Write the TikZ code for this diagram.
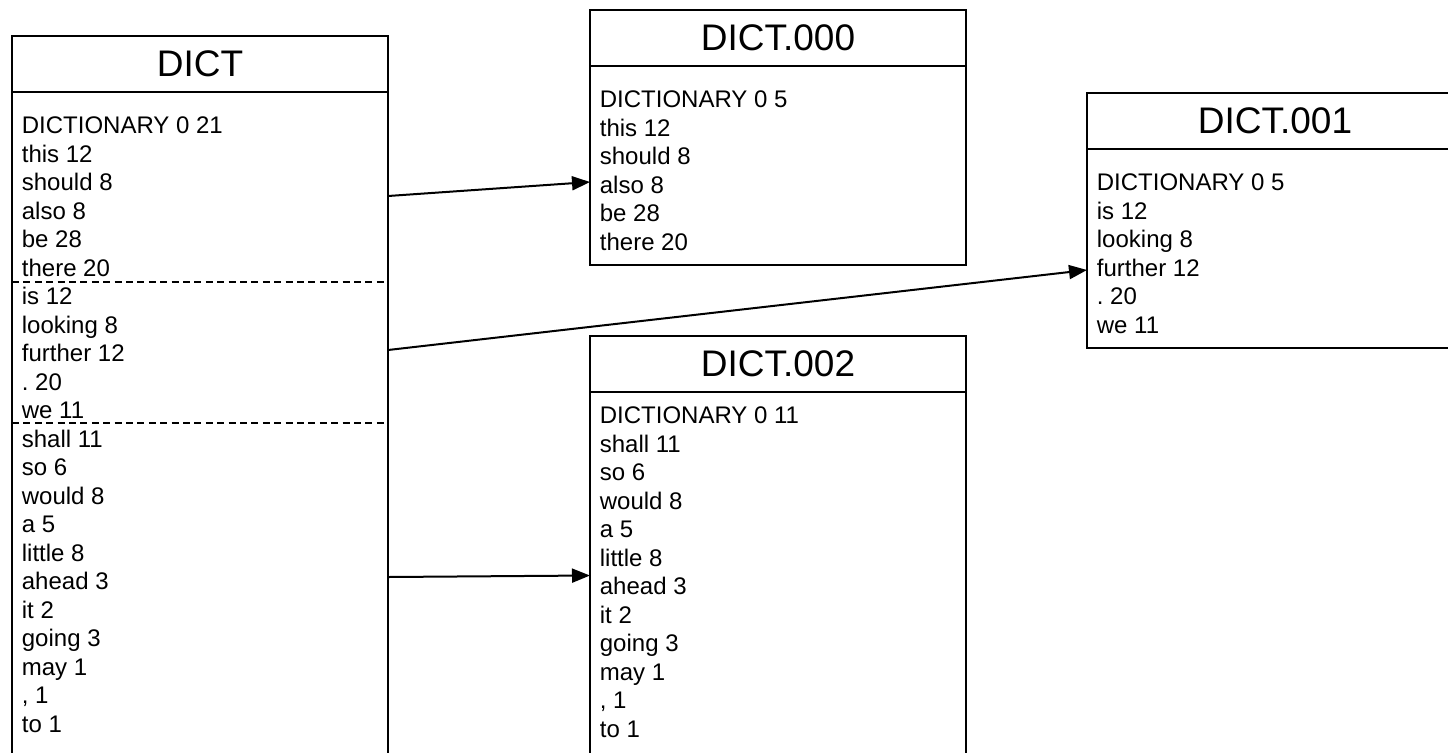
\documentclass[tikz,border=0pt]{standalone}
\usepackage{fontspec}
\setmainfont{Liberation Sans}
\usetikzlibrary{positioning,arrows.meta}

\tikzset{
  head/.style={draw, line width=1pt, outer sep=0pt, inner sep=0pt,
    minimum width=188pt, minimum height=28pt,
    font=\fontsize{18.5pt}{22pt}\selectfont},
  part/.style={outer sep=0pt, inner sep=0pt, minimum width=188pt},
  body/.style={part, draw, line width=1pt},
  lines/.style={inner sep=0pt, anchor=north west, align=left,
    font=\fontsize{12pt}{14.25pt}\selectfont\frenchspacing},
  split/.style={line width=1pt, dash pattern=on 3.5pt off 2.2pt},
  link/.style={line width=1pt, -{Triangle[length=9pt, width=7pt]}},
}

\begin{document}
\begin{tikzpicture}[x=0.5pt, y=-0.5pt]
        \useasboundingbox (0,0) rectangle (1448,752);
        \clip (0,0) rectangle (1448,752);
        % source file, cut in three parts
        \node[head] (dict) at (200,64) {DICT};
        \node[part, minimum height=95pt, below=0pt of dict] (dictA) {};
        \node[part, minimum height=70.5pt, below=0pt of dictA] (dictB) {};
        \node[part, minimum height=170pt, below=0pt of dictB] (dictC) {};
        \draw[line width=1pt] (dictA.north west) rectangle (dictC.south east);
        \draw[split] (dictA.south west) -- (dictA.south east);
        \draw[split] (dictB.south west) -- (dictB.south east);
        \node[lines] (dictTxt) at ([shift={(9.5,21.6)}]dictA.north west)
          {\strut DICTIONARY 0 21\\this 12\\should 8\\also 8\\be 28\\there 20\\
           is 12\\looking 8\\further 12\\. 20\\we 11\\
           shall 11\\so 6\\would 8\\a 5\\little 8\\ahead 3\\it 2\\going 3\\may 1\\, 1\\to 1};
        % the parts
        \node[head] (d000) at (778,38) {DICT.000};
        \node[body, minimum height=99.5pt, below=0pt of d000] (d000b) {};
        \node[lines] (d000t) at ([shift={(9.5,21.6)}]d000b.north west)
          {\strut DICTIONARY 0 5\\this 12\\should 8\\also 8\\be 28\\there 20};
        \node[head] (d001) at (1275,121) {DICT.001};
        \node[body, minimum height=99.5pt, below=0pt of d001] (d001b) {};
        \node[lines] (d001t) at ([shift={(9.5,21.6)}]d001b.north west)
          {\strut DICTIONARY 0 5\\is 12\\looking 8\\further 12\\. 20\\we 11};
        \node[head] (d002) at (778,363.5) {DICT.002};
        \node[body, minimum height=190pt, below=0pt of d002] (d002b) {};
        \node[lines] (d002t) at ([shift={(9.5,12)}]d002b.north west)
          {\strut DICTIONARY 0 11\\shall 11\\so 6\\would 8\\a 5\\little 8\\ahead 3\\it 2\\going 3\\may 1\\, 1\\to 1};
        % splitting
        \draw[link] ([yshift=-4.5pt]dictA.east) -- ([yshift=-8.25pt]d000b.west);
        \draw[link] ([yshift=1.25pt]dictB.east) -- ([yshift=-10.75pt]d001b.west);
        \draw[link] ([yshift=8pt]dictC.east) -- ([yshift=3pt]d002b.west);
      \end{tikzpicture}
\end{document}
